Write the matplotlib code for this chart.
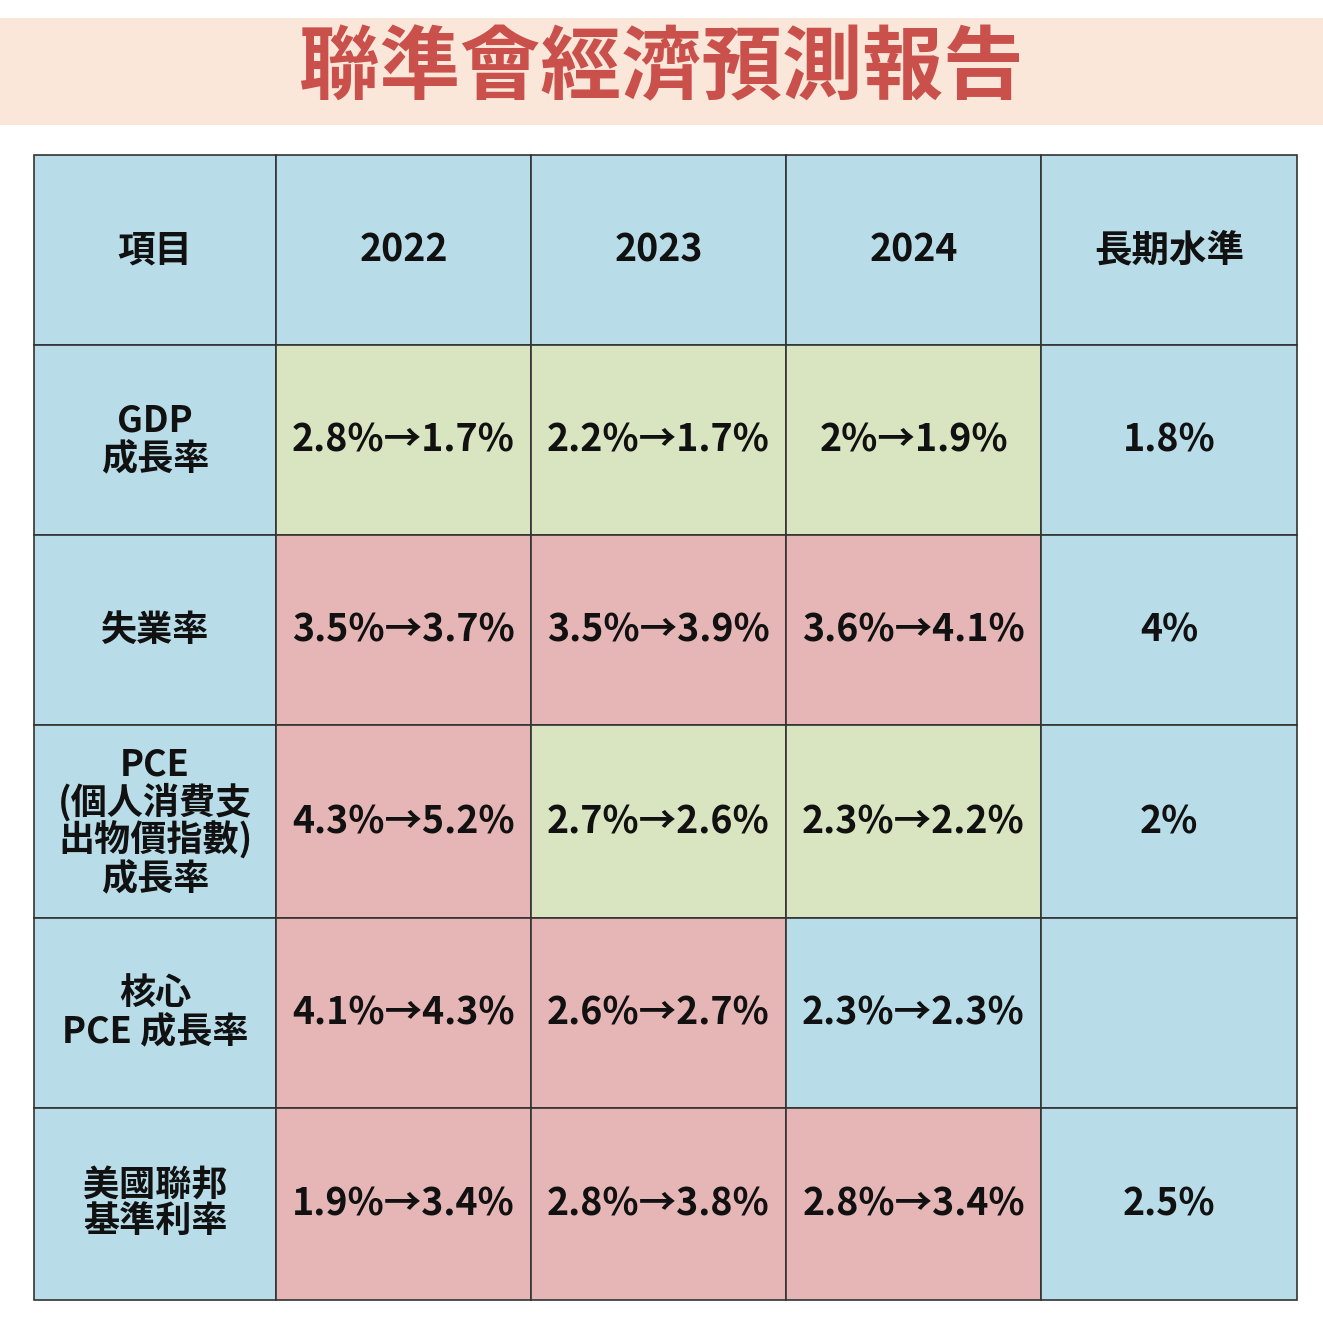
import matplotlib
matplotlib.use("Agg")
import matplotlib.pyplot as plt
from matplotlib.patches import Rectangle
from matplotlib import font_manager as fm

title = "聯準會經濟預測報告"
headers = ["項目", "2022", "2023", "2024", "長期水準"]
row_labels = ["GDP\n成長率", "失業率", "PCE\n(個人消費支\n出物價指數)\n成長率", "核心\nPCE 成長率", "美國聯邦\n基準利率"]
col_2022 = ["2.8%→1.7%", "3.5%→3.7%", "4.3%→5.2%", "4.1%→4.3%", "1.9%→3.4%"]
col_2023 = ["2.2%→1.7%", "3.5%→3.9%", "2.7%→2.6%", "2.6%→2.7%", "2.8%→3.8%"]
col_2024 = ["2%→1.9%", "3.6%→4.1%", "2.3%→2.2%", "2.3%→2.3%", "2.8%→3.4%"]
longrun = ["1.8%", "4%", "2%", "", "2.5%"]
# cell status: g = lowered/green, r = raised/red, b = unchanged
status_2022 = ["g", "r", "r", "r", "r"]
status_2023 = ["g", "r", "g", "r", "r"]
status_2024 = ["g", "r", "g", "b", "r"]

BLUE, GREEN, RED = "#b8dde9", "#d9e4c0", "#e6b6b7"
cmap = {"g": GREEN, "r": RED, "b": BLUE}

names = sorted({f.name for f in fm.fontManager.ttflist if "CJK" in f.name})
FONT = None
for pref in ["Noto Sans CJK TC", "Noto Sans CJK SC", "Noto Sans CJK JP"]:
    if pref in names:
        FONT = pref; break
if FONT is None:
    FONT = names[0] if names else "DejaVu Sans"

fig = plt.figure(figsize=(13.23, 13.23), dpi=100)
ax = fig.add_axes([0, 0, 1, 1])
ax.set_xlim(0, 1323); ax.set_ylim(1323, 0); ax.axis("off")

ax.add_patch(Rectangle((0, 18), 1323, 107, color="#fbe6da", lw=0))
ax.text(661, 70, title, fontsize=58, fontweight="bold", color="#c9504b",
        ha="center", va="center", family=FONT)

xs = [34, 276, 531, 786, 1041, 1297]
ys = [155, 345, 535, 725, 918, 1108, 1300]

cols = [row_labels, col_2022, col_2023, col_2024, longrun]
stats = [None, status_2022, status_2023, status_2024, None]

def cell(c, r, txt, color, fs=27):
    x0, x1, y0, y1 = xs[c], xs[c+1], ys[r], ys[r+1]
    ax.add_patch(Rectangle((x0, y0), x1-x0, y1-y0, facecolor=color, edgecolor="#333333", lw=1.2))
    ax.text((x0+x1)/2, (y0+y1)/2, txt, fontsize=fs, fontweight="bold", color="#111111",
            ha="center", va="center", family=FONT, linespacing=1.0)

for c, h in enumerate(headers):
    cell(c, 0, h, BLUE, fs=27)
for c in range(5):
    for r in range(5):
        color = BLUE if stats[c] is None else cmap[stats[c][r]]
        cell(c, r+1, cols[c][r], color, fs=26 if c == 0 else 27)

fig.savefig("out.png", dpi=100)
